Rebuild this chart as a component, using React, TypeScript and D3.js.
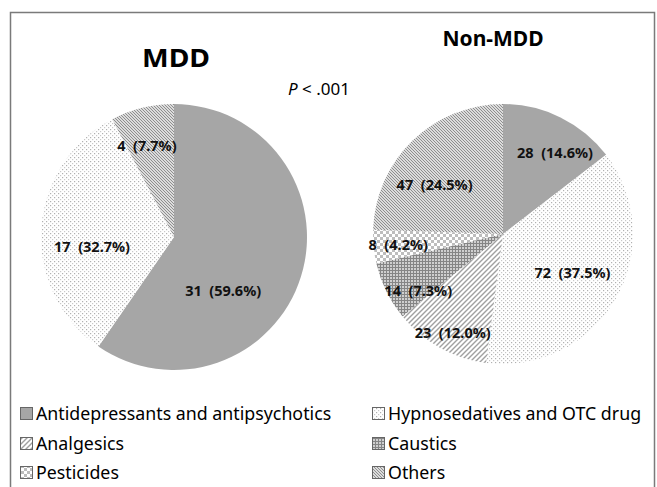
import React from "react";
import * as d3 from "d3";

const categories = [
  "Antidepressants and antipsychotics",
  "Hypnosedatives and OTC drug",
  "Analgesics",
  "Caustics",
  "Pesticides",
  "Others",
];
const mddValues = [31, 17, 0, 0, 0, 4];
const nonMddValues = [28, 72, 23, 14, 8, 47];
const chartTitles = ["MDD", "Non-MDD"];
const pText = ".001";

const legendOrder = [0, 1, 2, 3, 4, 5];

// label placement tweaks (angle offset in degrees, radius fraction)
const mddLabelAdj: [number, number][] = [
  [30, 0.545], [-9.5, 0.62], [0, 0.7], [0, 0.7], [0, 0.7], [-2.6, 0.72],
];
const nonLabelAdj: [number, number][] = [
  [6, 0.75], [-1.2, 0.61], [-2, 0.85], [-7, 0.78], [0, 0.81], [-10, 0.65],
];

const patternIds = ["pSolid", "pDots", "pHatch", "pGrid", "pChecker", "pDiag"];
const FONT = "'Noto Sans', sans-serif";

function Patterns() {
  return (
    <defs>
      <pattern id="pSolid" width={4} height={4} patternUnits="userSpaceOnUse">
        <rect width={4} height={4} fill="#a6a6a6" />
      </pattern>
      <pattern id="pDots" width={4} height={4} patternUnits="userSpaceOnUse">
        <rect width={4} height={4} fill="#ffffff" />
        <rect x={0} y={0} width={1.2} height={1.2} fill="#b0b0b0" />
        <rect x={2} y={2} width={1.2} height={1.2} fill="#c8c8c8" />
      </pattern>
      <pattern id="pHatch" width={5} height={5} patternUnits="userSpaceOnUse">
        <rect width={5} height={5} fill="#ffffff" />
        <path d="M-1,6 L6,-1 M-1,1 L1,-1 M4,6 L6,4" stroke="#a0a0a0" strokeWidth={1.4} />
      </pattern>
      <pattern id="pGrid" width={3} height={3} patternUnits="userSpaceOnUse">
        <rect width={3} height={3} fill="#cfcfcf" />
        <path d="M0,0.5 H3 M0.5,0 V3" stroke="#858585" strokeWidth={1} />
      </pattern>
      <pattern id="pChecker" width={6} height={6} patternUnits="userSpaceOnUse">
        <rect width={6} height={6} fill="#ffffff" />
        <rect x={0} y={0} width={3} height={3} fill="#bdbdbd" />
        <rect x={3} y={3} width={3} height={3} fill="#bdbdbd" />
      </pattern>
      <pattern id="pDiag" width={3} height={3} patternUnits="userSpaceOnUse">
        <rect width={3} height={3} fill="#dcdcdc" />
        <path d="M-1,-1 L4,4 M-1,2 L1,4 M2,-1 L4,1" stroke="#8e8e8e" strokeWidth={1} />
      </pattern>
    </defs>
  );
}

function Pie({
  values,
  cx,
  cy,
  r,
  adj,
}: {
  values: number[];
  cx: number;
  cy: number;
  r: number;
  adj: [number, number][];
}) {
  const total = d3.sum(values);
  const pie = d3.pie<number>().sort(null).value((d) => d);
  const arcs = pie(values);
  const arc = d3.arc<d3.PieArcDatum<number>>().innerRadius(0).outerRadius(r);
  return (
    <g transform={`translate(${cx},${cy})`}>
      {arcs.map((a, i) =>
        a.value > 0 ? (
          <path key={i} d={arc(a) || ""} fill={`url(#${patternIds[i]})`} stroke="none" />
        ) : null
      )}
      {arcs.map((a, i) => {
        if (a.value <= 0) return null;
        const mid = (a.startAngle + a.endAngle) / 2 + (adj[i][0] * Math.PI) / 180;
        const rr = r * adj[i][1];
        const x = Math.sin(mid) * rr;
        const y = -Math.cos(mid) * rr;
        const pct = ((a.value / total) * 100).toFixed(1);
        return (
          <text
            key={"t" + i}
            x={x}
            y={y}
            textAnchor="middle"
            dominantBaseline="central"
            fontFamily={FONT}
            fontWeight="bold"
            fontSize={14.5}
            fill="#111"
            style={{ whiteSpace: "pre" }}
          >
            {`${a.value}  (${pct}%)`}
          </text>
        );
      })}
    </g>
  );
}

export default function App() {
  const W = 657;
  const H = 487;
  const legendX = [20, 372];
  const legendY = [413, 443, 472];
  return (
    <svg
      width={W}
      height={H}
      style={{ position: "absolute", left: 0, top: 0, background: "#fff" }}
    >
      <Patterns />
      <rect x={0} y={0} width={W} height={H} fill="#fff" />
      <rect x={10.5} y={12.5} width={644} height={490} fill="none" stroke="#7a7a7a" strokeWidth={1.5} />
      <text x={176} y={57} textAnchor="middle" dominantBaseline="central"
        fontFamily={FONT} fontWeight="bold" fontSize={25} fill="#000"
        textLength={68} lengthAdjust="spacingAndGlyphs">
        {chartTitles[0]}
      </text>
      <text x={493} y={38} textAnchor="middle" dominantBaseline="central"
        fontFamily={FONT} fontWeight="bold" fontSize={21} fill="#000">
        {chartTitles[1]}
      </text>
      <text x={319} y={88} textAnchor="middle" dominantBaseline="central"
        fontFamily={FONT} fontSize={17} fill="#000" style={{ whiteSpace: "pre" }}>
        <tspan fontStyle="italic">P</tspan>
        {` < ${pText}`}
      </text>
      <Pie values={mddValues} cx={174} cy={237} r={133} adj={mddLabelAdj} />
      <Pie values={nonMddValues} cx={503} cy={234} r={130} adj={nonLabelAdj} />
      {legendOrder.map((ci, k) => {
        const col = k % 2;
        const row = Math.floor(k / 2);
        const x = legendX[col];
        const y = legendY[row];
        return (
          <g key={ci}>
            <rect x={x + 0.5} y={y - 5.5} width={12} height={12} fill={`url(#${patternIds[ci]})`} stroke="#666" strokeWidth={1} />
            <text x={x + 16} y={y} dominantBaseline="central"
              fontFamily={FONT} fontSize={17.8} fill="#000">
              {categories[ci]}
            </text>
          </g>
        );
      })}
    </svg>
  );
}
